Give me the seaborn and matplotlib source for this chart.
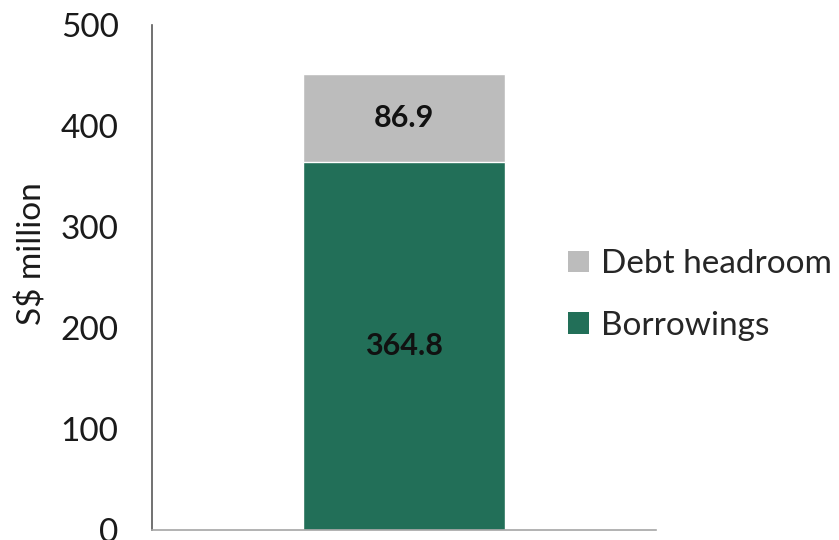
import matplotlib
matplotlib.use("Agg")
import matplotlib.pyplot as plt
from matplotlib.patches import Patch
import seaborn as sns
import pandas as pd

categories = [""]
borrowings = [364.8]
headroom = [86.9]
yticks = [0, 100, 200, 300, 400, 500]

GREEN = "#226F58"
GRAY = "#BCBCBC"

sns.set_style("white")
plt.rcParams["font.family"] = ["Lato", "DejaVu Sans"]

totals = [b + h for b, h in zip(borrowings, headroom)]
df = pd.DataFrame({"cat": categories, "borrowings": borrowings, "total": totals})

fig = plt.figure(figsize=(8.39, 5.40), dpi=100)
ax = fig.add_axes([152 / 839, 10 / 540, 504 / 839, 505 / 540])

sns.barplot(data=df, x="cat", y="total", color=GRAY, width=0.4, ax=ax, saturation=1)
sns.barplot(data=df, x="cat", y="borrowings", color=GREEN, width=0.4, ax=ax, saturation=1)

ax.set_xlim(-0.5, 0.5)
ax.set_ylim(0, 500)
ax.set_yticks(yticks)
ax.set_yticklabels([str(t) for t in yticks], fontsize=24, color="#1a1a1a")
ax.tick_params(axis="y", length=0, pad=24)
ax.tick_params(axis="x", length=0, labelbottom=False)
ax.set_xlabel("")
ax.set_ylabel("S$ million", fontsize=24, color="#1a1a1a")
ax.yaxis.set_label_coords(-0.207, 0.548)

for s in ["top", "right"]:
    ax.spines[s].set_visible(False)
ax.spines["left"].set_color("#595959")
ax.spines["left"].set_linewidth(1.2)
ax.spines["bottom"].set_color("#A6A6A6")
ax.spines["bottom"].set_linewidth(1.2)

for i, (b, h) in enumerate(zip(borrowings, headroom)):
    ax.text(i, b / 2, f"{b:.1f}", ha="center", va="center", fontsize=22,
            fontweight="bold", color="#111111")
    ax.text(i, b + h / 2, f"{h:.1f}", ha="center", va="center", fontsize=22,
            fontweight="bold", color="#111111")

handles = [Patch(facecolor=GRAY, edgecolor="none", label="Debt headroom"),
           Patch(facecolor=GREEN, edgecolor="none", label="Borrowings")]
fig.legend(handles=handles, loc="center left", bbox_to_anchor=(568 / 839, 1 - 295 / 540),
           frameon=False, fontsize=24, handlelength=0.63, handleheight=0.63,
           handletextpad=0.35, labelspacing=0.95, borderaxespad=0, borderpad=0)

fig.savefig("out.png", dpi=100)
